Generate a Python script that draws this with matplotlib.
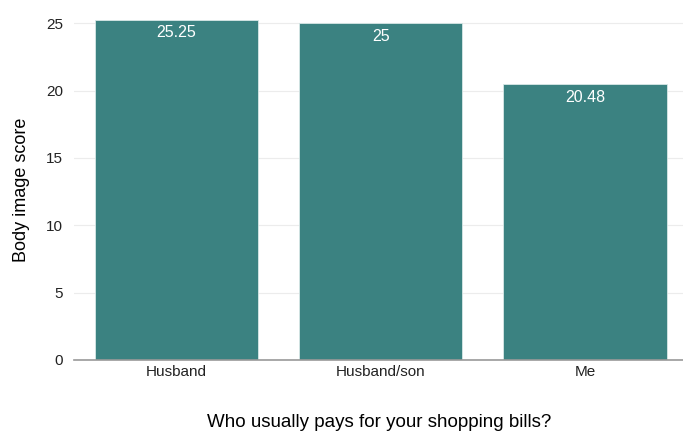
import matplotlib.pyplot as plt

plt.rcParams['font.family'] = ['Liberation Sans', 'DejaVu Sans']

payers = ['Husband', 'Husband/son', 'Me']
scores = [25.25, 25, 20.48]
score_labels = ['25.25', '25', '20.48']

fig = plt.figure(figsize=(6.83, 4.32), dpi=100)
ax = fig.add_axes([0.109, 0.167, 0.891, 0.787])

pos = range(len(payers))
bars = ax.bar(pos, scores, width=0.8, color='#3b8281', edgecolor='#d8e8e7', linewidth=0.6, zorder=2)

for b, txt in zip(bars, score_labels):
    ax.annotate(txt, (b.get_x() + b.get_width() / 2, b.get_height()),
                xytext=(0, -4), textcoords='offset points',
                ha='center', va='top', color='white', fontsize=11.5, zorder=3)

ax.set_xlim(-0.5, 2.48)
ax.set_ylim(0, 25.25)
ax.set_yticks([0, 5, 10, 15, 20, 25])
ax.set_xticks(list(pos))
ax.set_xticklabels(payers)
ax.tick_params(axis='both', length=0, labelsize=11, colors='#222222')
ax.tick_params(axis='x', pad=4)
ax.tick_params(axis='y', pad=8)

ax.grid(axis='y', color='#ececec', linewidth=0.8, zorder=0)
ax.axhline(0, color='#999999', linewidth=1.2, zorder=3, clip_on=False)
for s in ax.spines.values():
    s.set_visible(False)

ax.set_ylabel('Body image score', fontsize=13, labelpad=12)
ax.set_xlabel('Who usually pays for your shopping bills?', fontsize=13.5, labelpad=25)

fig.savefig('out.png', dpi=100)
